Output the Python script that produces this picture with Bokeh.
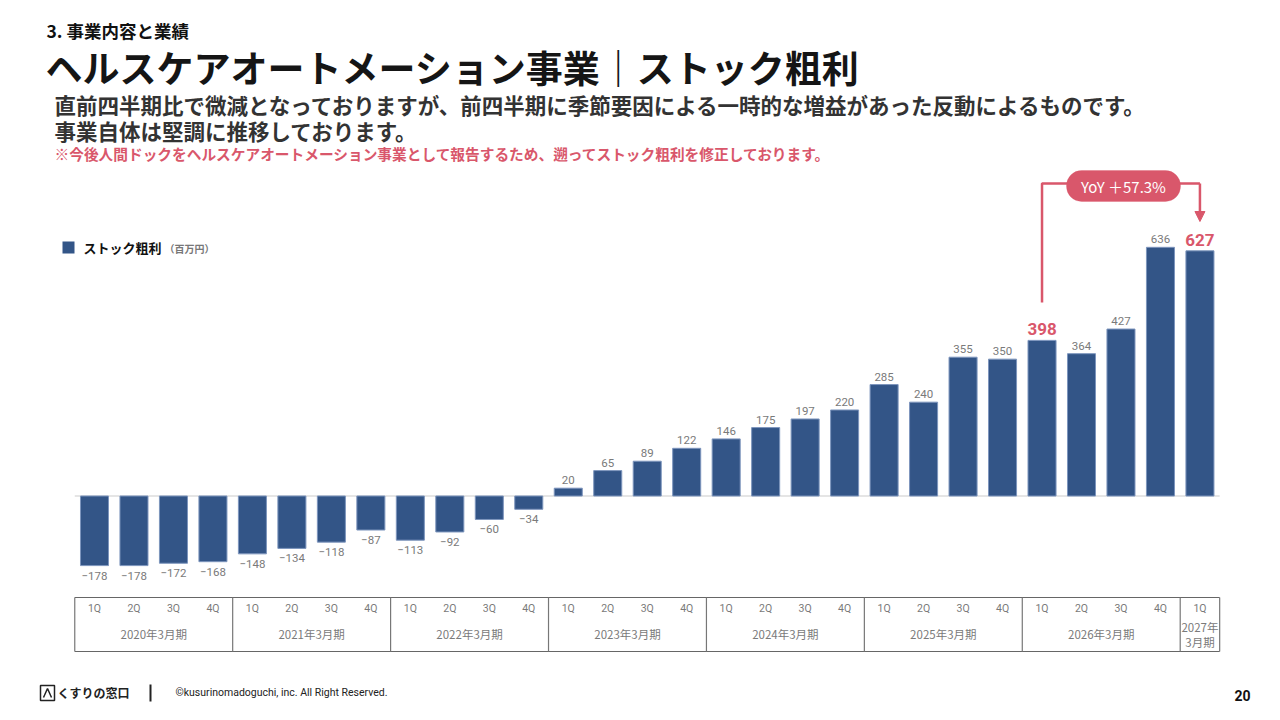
from bokeh.plotting import figure
from bokeh.models import Range1d, Label, BoxAnnotation, Arrow, NormalHead, ColumnDataSource
from bokeh.core.properties import value
from bokeh.embed import file_html
from bokeh.resources import INLINE

# ---------------- data ----------------
fiscal_years = ["2020年3月期", "2021年3月期", "2022年3月期", "2023年3月期",
                "2024年3月期", "2025年3月期", "2026年3月期", "2027年3月期"]
quarters_per_year = [4, 4, 4, 4, 4, 4, 4, 1]
quarter_names = ["1Q", "2Q", "3Q", "4Q"]
stock_gross_profit = [-178, -178, -172, -168, -148, -134, -118, -87,
                      -113, -92, -60, -34, 20, 65, 89, 122,
                      146, 175, 197, 220, 285, 240, 355, 350,
                      398, 364, 427, 636, 627]
yoy_text = "YoY ＋57.3%"
series_name = "ストック粗利"
unit_name = "（百万円）"

# ---------------- styles ----------------
BAR = "#335587"
EDGE = "#7d95bd"
RED = "#d9576b"
GRAY = "#7a7a7a"
JP = "Noto Sans CJK JP"
NUM = "Roboto"

W, H = 1264, 704
X0, STEP = 94.0, 39.48      # canvas px of first bar centre, px per bar
Z0, K = 208.5, 0.391        # canvas px (from bottom) of zero line, px per unit

def dx(X):  # page px -> data x
    return (X - X0) / STEP

def dy(Y):  # page px -> data y
    return (H - Y - Z0) / K

p = figure(width=W, height=H, output_backend="svg", toolbar_location=None,
           x_range=Range1d(-X0 / STEP, (W - X0) / STEP),
           y_range=Range1d(-Z0 / K, (H - Z0) / K),
           x_axis_type=None, y_axis_type=None, min_border=0)
p.outline_line_color = None
p.xgrid.visible = False
p.ygrid.visible = False
p.background_fill_color = "white"
p.border_fill_color = "white"

n = len(stock_gross_profit)
xs = list(range(n))
last = n - 1
prev_year = last - 4
highlight = {prev_year, last}

# zero line
p.segment(x0=[-0.5], y0=[0], x1=[n - 0.5], y1=[0], line_color="#dddddd", line_width=1.5)

# bars
src = ColumnDataSource(dict(x=xs, v=stock_gross_profit))
p.vbar(x="x", top="v", bottom=0, width=0.71, source=src,
       fill_color=BAR, line_color=EDGE, line_width=1)

# value labels
pos = [i for i in xs if stock_gross_profit[i] >= 0 and i not in highlight]
neg = [i for i in xs if stock_gross_profit[i] < 0 and i not in highlight]
hi = sorted(highlight)
p.text(x=pos, y=[stock_gross_profit[i] for i in pos],
       text=[str(stock_gross_profit[i]) for i in pos],
       text_align="center", text_baseline="bottom", y_offset=-4,
       text_font=value(NUM), text_font_size="11.5px", text_color=GRAY)
p.text(x=neg, y=[stock_gross_profit[i] for i in neg],
       text=[str(stock_gross_profit[i]).replace("-", "−") for i in neg],
       text_align="center", text_baseline="top", y_offset=6,
       text_font=value(NUM), text_font_size="11.5px", text_color=GRAY)
p.text(x=hi, y=[stock_gross_profit[i] for i in hi],
       text=[str(stock_gross_profit[i]) for i in hi],
       text_align="center", text_baseline="bottom", y_offset=-5,
       text_font=value(NUM), text_font_size="17px", text_font_style="bold",
       text_color=RED)

# ---------------- table under the bars ----------------
bar_quarters = []
for g, cnt in enumerate(quarters_per_year):
    for q in range(cnt):
        bar_quarters.append(quarter_names[q])

t_top, t_bot = dy(597), dy(651)
p.segment(x0=[-0.5, -0.5], y0=[t_top, t_bot], x1=[n - 0.5, n - 0.5], y1=[t_top, t_bot],
          line_color="#666666", line_width=1.2)
bounds = [-0.5]
acc = 0
for cnt in quarters_per_year:
    acc += cnt
    bounds.append(acc - 0.5)
p.segment(x0=bounds, y0=[t_top] * len(bounds), x1=bounds, y1=[t_bot] * len(bounds),
          line_color="#777777", line_width=1.2)

p.text(x=xs, y=[dy(608)] * n, text=bar_quarters, text_align="center", text_baseline="middle",
       text_font=value(NUM), text_font_size="10.5px", text_color=GRAY)

gx, gy, gt = [], [], []
start = 0
for g, cnt in enumerate(quarters_per_year):
    centre = start + (cnt - 1) / 2
    if cnt == 1:
        a, b = fiscal_years[g].split("年")
        gx += [centre, centre]
        gy += [dy(626), dy(641)]
        gt += [a + "年", b]
    else:
        gx.append(centre)
        gy.append(dy(633))
        gt.append(fiscal_years[g])
    start += cnt
p.text(x=gx, y=gy, text=gt, text_align="center", text_baseline="middle",
       text_font=value(JP), text_font_size="11.5px", text_color=GRAY)

# ---------------- YoY annotation ----------------
ann_y = dy(183)
p.line(x=[prev_year, prev_year, last, last],
       y=[dy(302), ann_y, ann_y, ann_y], line_color=RED, line_width=2.5)
p.add_layout(Arrow(end=NormalHead(size=10, fill_color=RED, line_color=RED),
                   x_start=last, y_start=ann_y, x_end=last, y_end=dy(221),
                   line_color=RED, line_width=2.5))
p.add_layout(BoxAnnotation(left=dx(1066), right=dx(1180), top=dy(170), bottom=dy(201),
                           fill_color=RED, fill_alpha=1, line_color=RED,
                           border_radius=15))

def lab(text, X, Y, size, color, bold=False, align="left", font=JP):
    p.add_layout(Label(x=X, y=H - Y, x_units="screen", y_units="screen",
                       text=text, text_font_size=f"{size}px", text_color=color,
                       text_font_style="bold" if bold else "normal",
                       text_align=align, text_baseline="middle", text_font=font))

lab(yoy_text, 1123, 186, 15, "white", align="center")

# ---------------- header ----------------
lab("3. 事業内容と業績", 46, 30, 17.5, "#111111", bold=True)
lab("ヘルスケアオートメーション事業｜ストック粗利", 45, 66, 37, "#151515", bold=True)
lab("直前四半期比で微減となっておりますが、前四半期に季節要因による一時的な増益があった反動によるものです。",
    54, 104, 21.5, "#333333", bold=True)
lab("事業自体は堅調に推移しております。", 54, 130, 21.5, "#333333", bold=True)
lab("※今後人間ドックをヘルスケアオートメーション事業として報告するため、遡ってストック粗利を修正しております。",
    54, 153, 14.7, RED, bold=True)

# legend
p.quad(left=[dx(62)], right=[dx(74)], top=[dy(241)], bottom=[dy(253)],
       fill_color=BAR, line_color=None)
lab(series_name, 83, 247, 13, "#111111", bold=True)
lab(unit_name, 164, 248, 10, "#777777", bold=True)

# ---------------- footer ----------------
p.quad(left=[dx(40)], right=[dx(54)], top=[dy(685)], bottom=[dy(700)],
       fill_color=None, line_color="#222222", line_width=1.5)
p.line(x=[dx(43), dx(47), dx(51)], y=[dy(697), dy(688), dy(697)], line_color="#222222", line_width=1.5)
lab("くすりの窓口", 57, 692, 12, "#222222", bold=True)
p.segment(x0=[dx(150)], y0=[dy(684)], x1=[dx(150)], y1=[dy(701)], line_color="#222222", line_width=2)
lab("©kusurinomadoguchi, inc. All Right Reserved.", 175, 692, 10.5, "#222222", font=NUM)
lab("20", 1250, 695, 14, "#111111", bold=True, align="right", font=NUM)

open("out.html", "w").write(file_html(p, INLINE))
